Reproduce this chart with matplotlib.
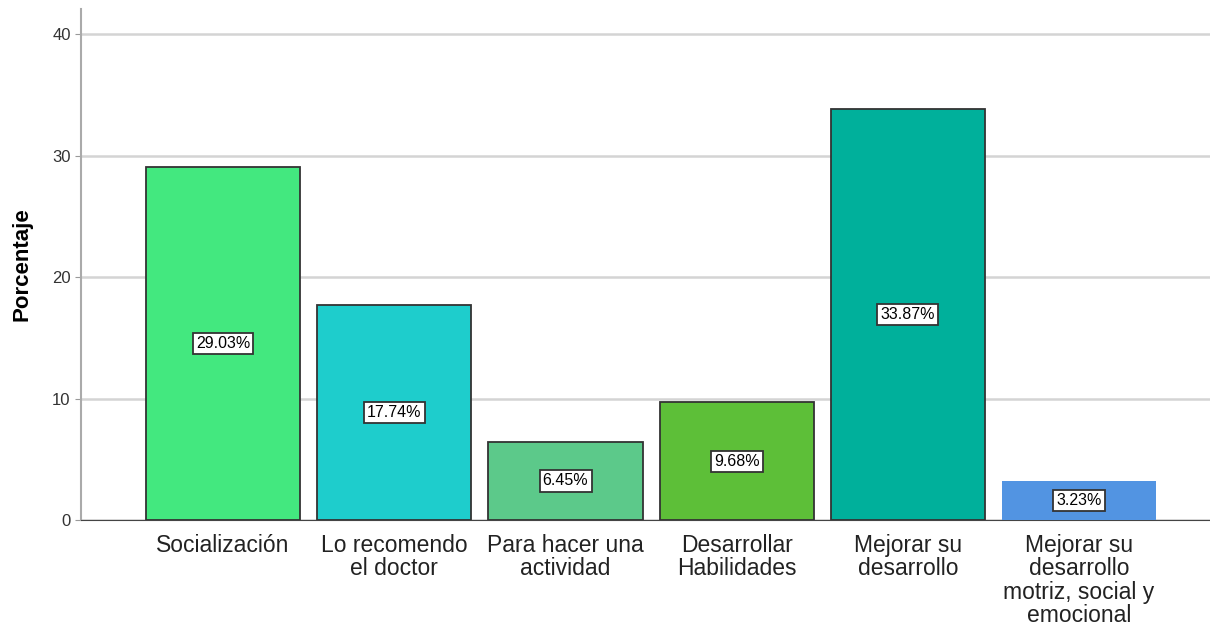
import numpy as np
import matplotlib.pyplot as plt

plt.rcParams['font.family'] = ['Liberation Sans', 'DejaVu Sans']

categorias = ["Socialización", "Lo recomendo\nel doctor", "Para hacer una\nactividad",
              "Desarrollar\nHabilidades", "Mejorar su\ndesarrollo",
              "Mejorar su\ndesarrollo\nmotriz, social y\nemocional"]
porcentajes = [29.03, 17.74, 6.45, 9.68, 33.87, 3.23]
colores = ["#43E87F", "#1ECDCC", "#5CC98A", "#5DBF38", "#00B09B", "#5294E2"]
bordes = ["#333333", "#333333", "#333333", "#333333", "#333333", "none"]

fig = plt.figure(figsize=(12.1, 6.25), dpi=100)
ax = fig.add_axes([0.067, 0.168, 0.933, 0.818])

x = np.arange(len(categorias))
ax.bar(x, porcentajes, width=0.9, color=colores, edgecolor=bordes, linewidth=1.3, zorder=3)

for xi, v in zip(x, porcentajes):
    ax.text(xi, v / 2, f"{v:.2f}%", ha="center", va="center", fontsize=11.5, zorder=4,
            bbox=dict(boxstyle="square,pad=0.2", facecolor="white", edgecolor="#333333", linewidth=1.3))

ax.set_xlim(-0.83, 5.765)
ax.set_ylim(0, 42.1)
ax.set_yticks([0, 10, 20, 30, 40])
ax.yaxis.grid(True, color="#d4d4d4", linewidth=1.8, zorder=0)
ax.set_xticks(x)
ax.set_xticklabels(categorias, fontsize=16.5, color="#222222", linespacing=1.02)
ax.tick_params(axis="x", length=0, pad=10)
ax.tick_params(axis="y", labelsize=12, length=4, color="#999999", labelcolor="#333333")
ax.set_ylabel("Porcentaje", fontsize=16, fontweight="bold", labelpad=14)

ax.spines["top"].set_visible(False)
ax.spines["right"].set_visible(False)
ax.spines["left"].set_color("#aaaaaa")
ax.spines["left"].set_linewidth(1.5)
ax.spines["bottom"].set_color("#444444")

fig.savefig("out.png", dpi=100)
